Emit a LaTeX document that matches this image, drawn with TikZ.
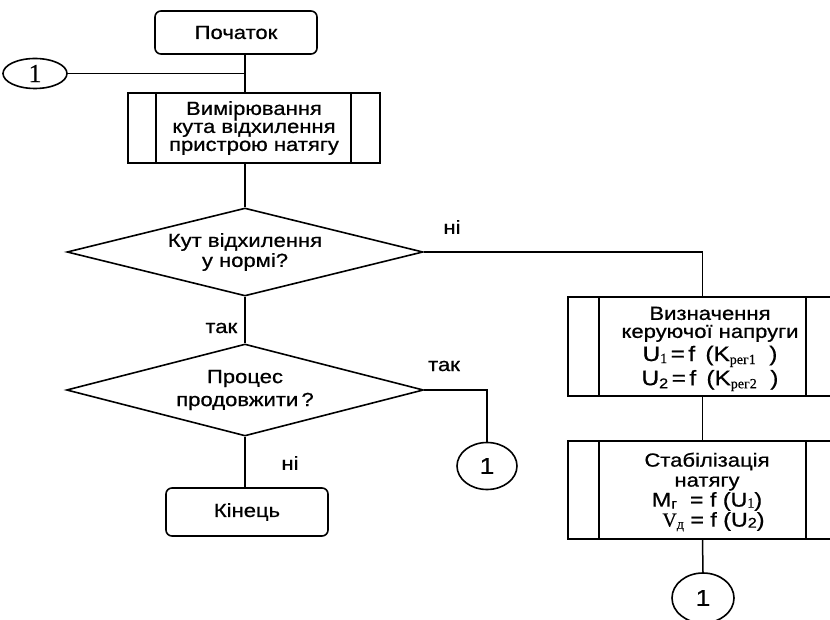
\documentclass[tikz,border=0pt]{standalone}
\usepackage{fontspec}
\setmainfont[FakeStretch=1.16,FakeBold=0.7]{Liberation Sans}
\newfontfamily\serifx[FakeBold=0.5]{Liberation Serif}
\usetikzlibrary{shapes.geometric}
\newcommand{\lowsub}[2][-3pt]{\raisebox{#1}{\fontsize{14}{14}\selectfont #2}}
\begin{document}
\begin{tikzpicture}[x=1pt,y=-1pt,line width=1.6pt,
  txt/.style={font=\fontsize{19}{18}\selectfont, align=center, inner sep=0pt},
  term/.style={draw, rounded corners=6pt, minimum width=162pt, minimum height=43pt, txt},
  proc/.style={draw, minimum width=269pt, minimum height=99pt, inner sep=0pt},
  dec/.style={draw, diamond, aspect=4, txt},
  conn/.style={draw, ellipse, inner sep=0pt, font=\fontsize{23}{23}\selectfont},
  lbl/.style={font=\fontsize{19}{18}\selectfont, inner sep=0pt},
  wire/.style={line width=1.5pt}]
\useasboundingbox (0,0) rectangle (830,620);
\clip (0,0) rectangle (830,620);
\coordinate (mx) at (245,0);
% top
\node[term] (start) at (236,32.5) {Початок};
\node[conn, minimum width=64pt, minimum height=30pt, font=\fontsize{26}{26}\selectfont] (c1) at (35,73.5) {\serifx 1};
\node[draw, minimum width=252pt, minimum height=70pt, txt] (p1) at (254,128)
  {Вимірювання\\кута відхилення\\пристрою натягу};
\draw ([xshift=29pt]p1.north west) -- ([xshift=29pt]p1.south west);
\draw ([xshift=-30pt]p1.north east) -- ([xshift=-30pt]p1.south east);
% decisions
\node[dec, minimum width=356pt, minimum height=88pt, font=\fontsize{19}{20}\selectfont] (d1) at (245,252)
  {Кут відхилення\\у нормі?};
\node[dec, minimum width=357pt, minimum height=92pt, font=\fontsize{19}{23}\selectfont] (d2) at (245,390)
  {Процес\\продовжити\,?};
\node[term, minimum height=48pt] (end) at (247,512) {Кінець};
\node[conn, minimum width=60pt, minimum height=47pt] (c2) at (487,466) {1};
% right column
\node[proc] (b2) at (702.5,346.5) {};
\draw ([xshift=32pt]b2.north west) -- ([xshift=32pt]b2.south west);
\draw ([xshift=-32pt]b2.north east) -- ([xshift=-32pt]b2.south east);
\node[txt] (t2) at (710,349)
  {Визначення\\керуючої напруги\\[3pt]
   {\fontsize{21}{21}\selectfont U\lowsub[-2pt]{\serifx 1}\,=\,f\, (K\lowsub{\serifx рег1}\ \ )}\\[2pt]
   {\fontsize{21}{21}\selectfont U\lowsub[-3pt]{2}\,=\,f\, (K\lowsub{\serifx рег2}\ \ )}};
\node[proc, minimum height=98pt] (b3) at (702.5,490) {};
\draw ([xshift=32pt]b3.north west) -- ([xshift=32pt]b3.south west);
\draw ([xshift=-32pt]b3.north east) -- ([xshift=-32pt]b3.south east);
\node[txt, font=\fontsize{19}{20}\selectfont] (t3) at (707,492)
  {Стабілізація\\натягу\\
   {\fontsize{20}{19.5}\selectfont M\lowsub[-2pt]{г}\ \ = f (U\lowsub[-1pt]{\serifx 1})}\\
   {\fontsize{20}{19.5}\selectfont\ \ {\serifx V\lowsub[-2pt]{д}} = f (U\lowsub[-1pt]{2})}};
\node[conn, minimum width=62pt, minimum height=50pt] (c3) at (703,598) {1};
% labels
\node[lbl] (lni1) at (452,227) {ні};
\node[lbl, anchor=east] (ltak1) at (238,328) {так};
\node[lbl] (ltak2) at (444,366) {так};
\node[lbl] (lni2) at (290,463) {ні};
% connectors
\draw[wire] (start.south -| mx) -- (p1.north -| mx);
\draw[wire] (c1.east) -- (c1.east -| mx);
\draw[wire] (p1.south -| mx) -- (d1.north);
\draw[wire] (d1.south) -- (d2.north);
\draw[wire] (d2.south) -- (d2.south |- end.north);
\draw[wire] (d1.east) -| (b2.north);
\draw[wire] (d2.east) -| (c2.north);
\draw[wire] (b2.south) -- (b3.north);
\draw[wire] (b3.south) -- (c3.north);
\end{tikzpicture}
\end{document}
